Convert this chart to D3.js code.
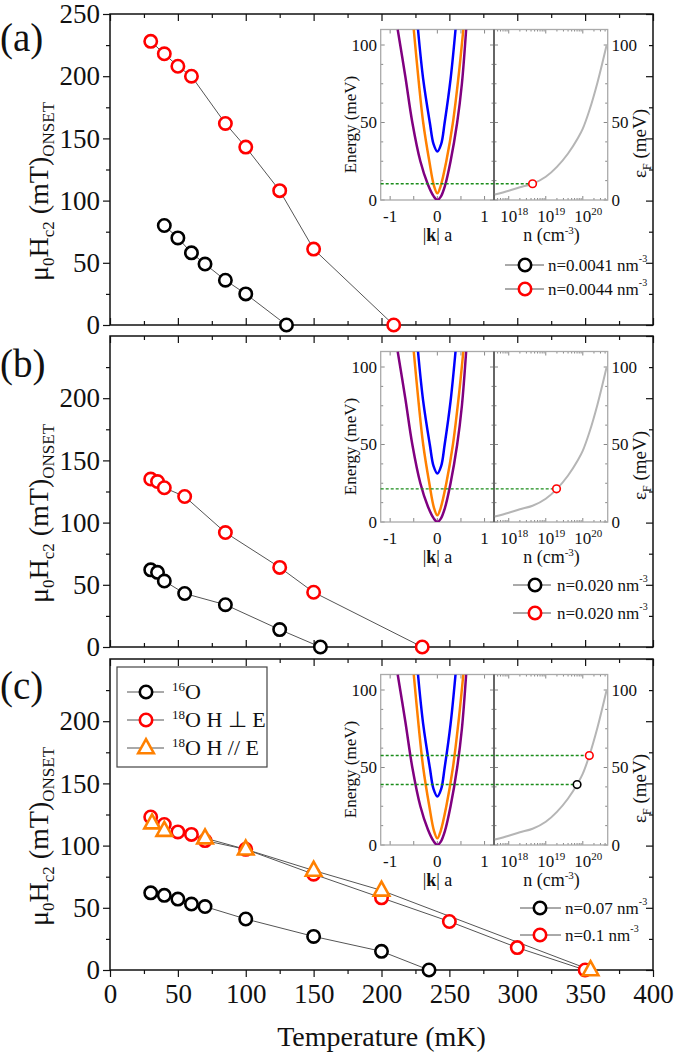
<!DOCTYPE html>
<html><head><meta charset="utf-8">
<script src="https://cdn.jsdelivr.net/npm/d3@7"></script>
<style>
body{margin:0;background:#fff}
svg{display:block}
svg text{font-family:"Liberation Serif",serif !important;fill:#111}
</style>
</head><body>
<svg id="chart" width="675" height="1055" font-family="Liberation Serif, serif"></svg>
<script>
// ---------------- DATA ----------------
const panelLabels = ["(a)", "(b)", "(c)"];
const xMajorTicks = [0, 50, 100, 150, 200, 250, 300, 350, 400];
const xMinorTicks = [25, 75, 125, 175, 225, 275, 325, 375];
const yLabelTicksA = [0, 50, 100, 150, 200, 250];
const yLabelTicksBC = [0, 50, 100, 150, 200];
const yMinorTicks = [25, 75, 125, 175, 225];

// panel (a)
const aBlackT = [40, 50, 60, 70, 85, 100, 130];
const aBlackH = [80, 70, 58, 49, 36, 25, 0];
const aRedT = [30, 40, 50, 60, 85, 100, 125, 150, 209];
const aRedH = [228, 218, 208, 200, 162, 143, 108, 61, 0];
// panel (b)
const bBlackT = [30, 35, 40, 55, 85, 125, 155];
const bBlackH = [62, 60, 53, 43, 34, 14, 0];
const bRedT = [30, 35, 40, 55, 85, 125, 150, 230];
const bRedH = [135, 133, 128, 121, 92, 64, 44, 0];
// panel (c)
const cBlackT = [30, 40, 50, 60, 70, 100, 150, 200, 235];
const cBlackH = [62, 60, 57, 53, 51, 41, 27, 15, 0];
const cRedT = [30, 40, 50, 60, 70, 100, 150, 200, 250, 300, 350];
const cRedH = [123, 117, 111, 109, 104, 97, 77, 58, 39, 18, 0];
const cOrangeT = [31, 40, 70, 100, 150, 200, 354];
const cOrangeH = [118, 112, 106, 97, 80, 64, 0];

// legends
const legendA = ["n=0.0041 nm", "n=0.0044 nm"];
const legendB = ["n=0.020 nm", "n=0.020 nm"];
const legendC = ["n=0.07 nm", "n=0.1 nm"];
const legendSup = "-3";
const legendBoxSup = ["16", "18", "18"];
const legendBoxText = ["O", "O H \u22A5 E", "O H // E"];

// inset: band dispersions  (|k|a , energy meV)
const purpleK = [-0.84, -0.68, -0.53, -0.36, -0.2, -0.08, 0, 0.07, 0.16, 0.28, 0.42, 0.52, 0.61];
const purpleE = [110, 80, 50, 25, 10, 2.5, 0, 2, 9, 25, 50, 75, 110];
const orangeK = [-0.5, -0.4, -0.3, -0.17, -0.07, 0, 0.07, 0.19, 0.33, 0.45, 0.55];
const orangeE = [110, 78, 50, 25, 9, 4.3, 9, 25, 50, 80, 110];
const blueK = [-0.41, -0.3, -0.16, -0.08, 0, 0.08, 0.155, 0.28, 0.385];
const blueE = [110, 78, 50, 36, 31.3, 36, 50, 78, 110];
// inset: Fermi energy vs carrier density
const fermiN = [4.2e17, 1e18, 2e18, 4.4e18, 1e19, 2e19, 4e19, 7e19, 1e20, 1.5e20, 2.5e20, 4.4e20];
const fermiE = [3.5, 6, 8.2, 10.5, 15, 21.4, 30, 39, 46, 57.7, 76, 100];
// inset markers per panel
const insetMarkN = [[4.4e18], [1.95e19], [7e19, 1.5e20]];
const insetMarkE = [[10.5], [21.4], [39, 57.7]];
const insetXTickLabels = ["-1", "0", "1"];
const insetXTickVals = [-1, 0, 1];
const insetYTickVals = [0, 50, 100];
const insetLogTicks = [1e18, 1e19, 1e20];
const insetLogExp = ["18", "19", "20"];

// ---------------- LAYOUT ----------------
const FONT = "Liberation Serif, serif";
const svg = d3.select("#chart");
svg.append("rect").attr("width", 675).attr("height", 1055).attr("fill", "#fff");
const L = 110, R = 653, PH = 311;
const panelTops = [14, 336, 659];
const x = d3.scaleLinear().domain([0, 400]).range([L, R]);
const RED = "#ff0000", BLACK = "#000000", ORANGE = "#ff8000";
const LINE = "#555";

const triPath = "M0,-8.8L7.8,5.2L-7.8,5.2Z";

function styleAxis(g, fs) {
  g.attr("font-family", FONT).attr("font-size", fs);
  g.select(".domain").remove();
  g.selectAll(".tick line").attr("stroke", "#111").attr("stroke-width", 1.2);
  g.selectAll(".tick text").attr("font-size", fs).attr("fill", "#111").attr("font-family", FONT);
}

function drawSeries(g, y, T, Hs) {
  const pts = T.map((t, i) => [x(t), y(Hs[i])]);
  g.append("path").attr("d", d3.line()(pts)).attr("fill", "none")
    .attr("stroke", LINE).attr("stroke-width", 1);
  return pts;
}
function drawMarkers(g, pts, color, shape) {
  if (shape === "tri") {
    g.selectAll(null).data(pts).enter().append("path").attr("d", triPath)
      .attr("transform", d => `translate(${d[0]},${d[1]})`)
      .attr("fill", "#fff").attr("stroke", color).attr("stroke-width", 2.6);
  } else {
    g.selectAll(null).data(pts).enter().append("circle")
      .attr("cx", d => d[0]).attr("cy", d => d[1]).attr("r", 6.2)
      .attr("fill", "#fff").attr("stroke", color).attr("stroke-width", 2.6);
  }
}

function txt(g) { return g.append("text").attr("font-family", FONT); }

function drawFrame(i) {
  const top = panelTops[i], bot = top + PH;
  const y = d3.scaleLinear().domain([0, 250]).range([bot, top]);
  const g = svg.append("g");
  const labels = i === 0 ? yLabelTicksA : yLabelTicksBC;
  g.append("g").attr("transform", `translate(${L},0)`)
    .call(d3.axisLeft(y).tickValues(labels).tickSize(7).tickPadding(3).tickFormat(d3.format("d")))
    .call(a => styleAxis(a, 27));
  g.append("g").attr("transform", `translate(${L},0)`)
    .call(d3.axisLeft(y).tickValues(yMinorTicks).tickSize(4).tickFormat(""))
    .call(a => styleAxis(a, 10));
  g.append("g").attr("transform", `translate(${R},0)`)
    .call(d3.axisLeft(y).tickValues([0, 50, 100, 150, 200, 250]).tickSize(7).tickFormat(""))
    .call(a => styleAxis(a, 10));
  g.append("g").attr("transform", `translate(${R},0)`)
    .call(d3.axisLeft(y).tickValues(yMinorTicks).tickSize(4).tickFormat(""))
    .call(a => styleAxis(a, 10));
  g.append("g").attr("transform", `translate(0,${top})`)
    .call(d3.axisBottom(x).tickValues(xMajorTicks).tickSize(7).tickFormat(""))
    .call(a => styleAxis(a, 10));
  g.append("g").attr("transform", `translate(0,${top})`)
    .call(d3.axisBottom(x).tickValues(xMinorTicks).tickSize(4).tickFormat(""))
    .call(a => styleAxis(a, 10));
  if (i < 2) {
    g.append("g").attr("transform", `translate(0,${bot})`)
      .call(d3.axisTop(x).tickValues(xMajorTicks).tickSize(7).tickFormat(""))
      .call(a => styleAxis(a, 10));
    g.append("g").attr("transform", `translate(0,${bot})`)
      .call(d3.axisTop(x).tickValues(xMinorTicks).tickSize(4).tickFormat(""))
      .call(a => styleAxis(a, 10));
  } else {
    g.append("g").attr("transform", `translate(0,${bot})`)
      .call(d3.axisBottom(x).tickValues(xMajorTicks).tickSize(7).tickPadding(7).tickFormat(d3.format("d")))
      .call(a => styleAxis(a, 27));
    g.append("g").attr("transform", `translate(0,${bot})`)
      .call(d3.axisBottom(x).tickValues(xMinorTicks).tickSize(4).tickFormat(""))
      .call(a => styleAxis(a, 10));
  }
  g.append("rect").attr("x", L).attr("y", top).attr("width", R - L).attr("height", PH)
    .attr("fill", "none").attr("stroke", "#111").attr("stroke-width", 1.5);

  const yt = txt(g).attr("transform", `translate(48,${top + PH / 2 + 22}) rotate(-90)`)
    .attr("text-anchor", "middle").attr("font-size", 28);
  yt.append("tspan").text("\u03BC");
  yt.append("tspan").attr("font-size", 17).attr("dy", 6).text("0");
  yt.append("tspan").attr("dy", -6).text("H");
  yt.append("tspan").attr("font-size", 17).attr("dy", 6).text("c2");
  yt.append("tspan").attr("dy", -6).text(" (mT)");
  yt.append("tspan").attr("font-size", 17).attr("dy", 6).text("ONSET");
  const labY = [51, 377, 699];
  txt(g).attr("x", 0).attr("y", labY[i]).attr("font-size", 39).text(panelLabels[i]);
  return y;
}

function drawInset(i) {
  const top = panelTops[i] + 15.5, bot = top + 170.5;
  const xl = d3.scaleLinear().domain([-1.2, 1.2]).range([380.7, 494]);
  const xr = d3.scaleLog().domain([4e17, 4.7e20]).range([494, 607.7]);
  const ye = d3.scaleLinear().domain([0, 110]).range([bot, top]);
  const g = svg.append("g");
  const clipId = "clipL" + i;
  g.append("clipPath").attr("id", clipId).append("rect")
    .attr("x", 380.7).attr("y", top).attr("width", 494 - 380.7).attr("height", bot - top);

  const tk = g.append("g").attr("stroke", "#888").attr("stroke-width", 1);
  [-1, -0.5, 0, 0.5, 1].forEach(v => {
    tk.append("line").attr("x1", xl(v)).attr("x2", xl(v)).attr("y1", bot).attr("y2", bot - 4);
    tk.append("line").attr("x1", xl(v)).attr("x2", xl(v)).attr("y1", top).attr("y2", top + 4);
  });
  [0, 12.5, 25, 37.5, 50, 62.5, 75, 87.5, 100].forEach(v => {
    const len = v % 50 === 0 ? 4 : 2.5;
    tk.append("line").attr("x1", 380.7).attr("x2", 380.7 + len).attr("y1", ye(v)).attr("y2", ye(v));
    tk.append("line").attr("x1", 494).attr("x2", 494 - len).attr("y1", ye(v)).attr("y2", ye(v));
    tk.append("line").attr("x1", 494).attr("x2", 494 + len).attr("y1", ye(v)).attr("y2", ye(v));
    tk.append("line").attr("x1", 607.7).attr("x2", 607.7 - len).attr("y1", ye(v)).attr("y2", ye(v));
  });
  xr.ticks().forEach(v => {
    const major = insetLogTicks.some(m => Math.abs(m - v) / v < 1e-6);
    const len = major ? 4 : 2;
    tk.append("line").attr("x1", xr(v)).attr("x2", xr(v)).attr("y1", bot).attr("y2", bot - len);
    tk.append("line").attr("x1", xr(v)).attr("x2", xr(v)).attr("y1", top).attr("y2", top + len);
  });

  g.append("rect").attr("x", 380.7).attr("y", top).attr("width", 607.7 - 380.7).attr("height", bot - top)
    .attr("fill", "none").attr("stroke", "#aaa").attr("stroke-width", 1.3);
  g.append("line").attr("x1", 494).attr("x2", 494).attr("y1", top).attr("y2", bot)
    .attr("stroke", "#666").attr("stroke-width", 2);

  const bl = d3.line().curve(d3.curveCatmullRom.alpha(0.5));
  const bands = [[purpleK, purpleE, "#800080"], [orangeK, orangeE, "#ff8000"], [blueK, blueE, "#0000ff"]];
  const bg = g.append("g").attr("clip-path", `url(#${clipId})`);
  bands.forEach(([K, E, c]) => {
    bg.append("path").attr("d", bl(K.map((k, j) => [xl(k), ye(E[j])])))
      .attr("fill", "none").attr("stroke", c).attr("stroke-width", 2.5);
  });
  g.append("path").attr("d", d3.line().curve(d3.curveMonotoneX)(fermiN.map((n, j) => [xr(n), ye(fermiE[j])])))
    .attr("fill", "none").attr("stroke", "#b5b5b5").attr("stroke-width", 2);
  const colors = i === 2 ? [BLACK, RED] : [RED];
  insetMarkN[i].forEach((n, j) => {
    g.append("line").attr("x1", 380.7).attr("x2", xr(n) - 4).attr("y1", ye(insetMarkE[i][j])).attr("y2", ye(insetMarkE[i][j]))
      .attr("stroke", "#1a8c1a").attr("stroke-width", 1.4).attr("stroke-dasharray", "3,2");
  });
  insetMarkN[i].forEach((n, j) => {
    g.append("circle").attr("cx", xr(n)).attr("cy", ye(insetMarkE[i][j])).attr("r", 3.8)
      .attr("fill", "#fff").attr("stroke", colors[j]).attr("stroke-width", 1.6);
  });

  const fs = 17;
  insetYTickVals.forEach(v => {
    txt(g).attr("x", 377).attr("y", ye(v)).attr("dy", "0.35em").attr("text-anchor", "end")
      .attr("font-size", fs).text(v);
    txt(g).attr("x", 611.5).attr("y", ye(v)).attr("dy", "0.35em").attr("text-anchor", "start")
      .attr("font-size", fs).text(v);
  });
  insetXTickVals.forEach((v, j) => {
    txt(g).attr("x", xl(v)).attr("y", bot + 22.4).attr("text-anchor", "middle")
      .attr("font-size", fs).text(insetXTickLabels[j]);
  });
  insetLogTicks.forEach((v, j) => {
    const t = txt(g).attr("x", xr(v) - 8.5).attr("y", bot + 22.4).attr("font-size", fs);
    t.append("tspan").text("10");
    t.append("tspan").attr("font-size", 11).attr("dy", -7).text(insetLogExp[j]);
  });
  const kt = txt(g).attr("x", 437.5).attr("y", bot + 40.5).attr("text-anchor", "middle").attr("font-size", 18);
  kt.append("tspan").text("|");
  kt.append("tspan").attr("font-weight", "bold").text("k");
  kt.append("tspan").text("| a");
  const nt = txt(g).attr("x", 551.5).attr("y", bot + 40.5).attr("text-anchor", "middle").attr("font-size", 18);
  nt.append("tspan").text("n (cm");
  nt.append("tspan").attr("font-size", 11).attr("dy", -7).text("-3");
  nt.append("tspan").attr("dy", 7).text(")");
  txt(g).attr("transform", `translate(356,${top + 95}) rotate(-90)`)
    .attr("text-anchor", "middle").attr("font-size", 17).text("Energy (meV)");
  const et = txt(g).attr("transform", `translate(646,${top + 114}) rotate(-90)`)
    .attr("text-anchor", "middle").attr("font-size", 19);
  et.append("tspan").text("\u03B5");
  et.append("tspan").attr("font-size", 12).attr("dy", 5).text("F");
  et.append("tspan").attr("dy", -5).text(" (meV)");
}

function drawLegend(cfg, texts, colors) {
  const g = svg.append("g");
  texts.forEach((t, j) => {
    const yy = cfg.ys[j];
    g.append("line").attr("x1", cfg.x0).attr("x2", cfg.x1).attr("y1", yy).attr("y2", yy)
      .attr("stroke", LINE).attr("stroke-width", 1);
    g.append("circle").attr("cx", cfg.cx).attr("cy", yy).attr("r", 6.2)
      .attr("fill", "#fff").attr("stroke", colors[j]).attr("stroke-width", 2.6);
    const tx = txt(g).attr("x", cfg.tx).attr("y", yy + 6).attr("font-size", 17);
    tx.append("tspan").text(t);
    tx.append("tspan").attr("font-size", 10).attr("dy", -9).text(legendSup);
  });
}

// ---------------- DRAW ----------------
let y = drawFrame(0);
drawInset(0);
let g = svg.append("g");
let p1 = drawSeries(g, y, aBlackT, aBlackH);
let p2 = drawSeries(g, y, aRedT, aRedH);
drawMarkers(g, p1, BLACK); drawMarkers(g, p2, RED);
drawLegend({x0: 505, x1: 544, cx: 525, tx: 548, ys: [265, 289]}, legendA, [BLACK, RED]);

y = drawFrame(1);
drawInset(1);
g = svg.append("g");
p1 = drawSeries(g, y, bBlackT, bBlackH);
p2 = drawSeries(g, y, bRedT, bRedH);
drawMarkers(g, p1, BLACK); drawMarkers(g, p2, RED);
drawLegend({x0: 513, x1: 551, cx: 535, tx: 557, ys: [585, 613]}, legendB, [BLACK, RED]);

y = drawFrame(2);
drawInset(2);
g = svg.append("g");
p1 = drawSeries(g, y, cBlackT, cBlackH);
p2 = drawSeries(g, y, cRedT, cRedH);
let p3 = drawSeries(g, y, cOrangeT, cOrangeH);
drawMarkers(g, p1, BLACK); drawMarkers(g, p2, RED); drawMarkers(g, p3, ORANGE, "tri");
drawLegend({x0: 520, x1: 561, cx: 540, tx: 565, ys: [908, 935]}, legendC, [BLACK, RED]);

const lb = svg.append("g");
lb.append("rect").attr("x", 117).attr("y", 667).attr("width", 150).attr("height", 100)
  .attr("fill", "#fff").attr("stroke", "#444").attr("stroke-width", 1.2);
const boxColors = [BLACK, RED, ORANGE];
[692, 720, 748].forEach((yy, j) => {
  lb.append("line").attr("x1", 127).attr("x2", 164).attr("y1", yy).attr("y2", yy)
    .attr("stroke", LINE).attr("stroke-width", 1);
  if (j < 2) {
    lb.append("circle").attr("cx", 146).attr("cy", yy).attr("r", 6.2)
      .attr("fill", "#fff").attr("stroke", boxColors[j]).attr("stroke-width", 2.6);
  } else {
    lb.append("path").attr("d", triPath).attr("transform", `translate(146,${yy})`)
      .attr("fill", "#fff").attr("stroke", ORANGE).attr("stroke-width", 2.6);
  }
  const t = txt(lb).attr("x", 172).attr("y", yy + 7).attr("font-size", 22);
  t.append("tspan").attr("font-size", 13).attr("dy", -8).text(legendBoxSup[j]);
  t.append("tspan").attr("dy", 8).text(legendBoxText[j]);
});

txt(svg).attr("x", 381.5).attr("y", 1046).attr("text-anchor", "middle")
  .attr("font-size", 28).text("Temperature (mK)");
</script>
</body></html>
